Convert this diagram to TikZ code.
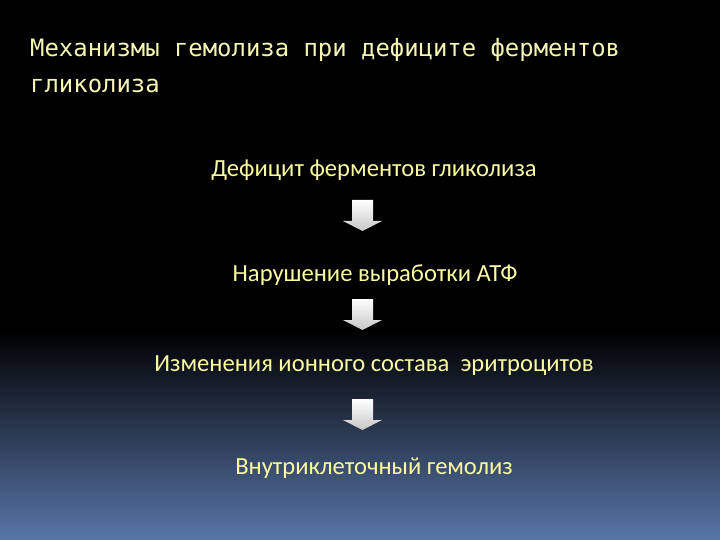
\documentclass[tikz,border=0pt]{standalone}
\usepackage{fontspec}
\setmainfont{Carlito}
\newfontfamily\titlefont{DejaVu Sans Mono}
\definecolor{bodytxt}{RGB}{250,250,160}
\definecolor{titletxt}{RGB}{245,245,180}
\definecolor{bgbot}{RGB}{88,118,168}
\tikzset{
  bodytext/.style={text=bodytxt, font=\fontsize{24.6}{28}\selectfont, anchor=base, inner sep=0pt},
  titletext/.style={text=titletxt, font=\titlefont\fontsize{23.9}{28}\selectfont, anchor=base west, inner sep=0pt},
  blockarrow/.style={top color=white, bottom color=white!78!black, draw=none}
}
\newcommand{\downarrowshape}[2]{%
  \path[blockarrow] (#1-10.5,#2) -- (#1+10.5,#2) -- (#1+10.5,#2+21) -- (#1+19.5,#2+21)
    -- (#1,#2+31) -- (#1-19.5,#2+21) -- (#1-10.5,#2+21) -- cycle;}
\begin{document}
\begin{tikzpicture}[x=1pt,y=-1pt]
\useasboundingbox (0,0) rectangle (720,540);
\fill[black] (0,0) rectangle (720,540);
\shade[top color=black, bottom color=bgbot] (0,330) rectangle (720,540);
\node[titletext] (t1) at (30,57) {Механизмы гемолиза при дефиците ферментов};
\node[titletext] (t2) at (30,93) {гликолиза};
\node[bodytext] (s1) at (374,177) {Дефицит ферментов гликолиза};
\node[bodytext] (s2) at (375,281) {Нарушение выработки АТФ};
\node[bodytext] (s3) at (374,371) {Изменения ионного состава\ \ эритроцитов};
\node[bodytext] (s4) at (374,474) {Внутриклеточный гемолиз};
\downarrowshape{362.5}{200}
\downarrowshape{362.5}{299}
\downarrowshape{362.5}{399}
\end{tikzpicture}
\end{document}
